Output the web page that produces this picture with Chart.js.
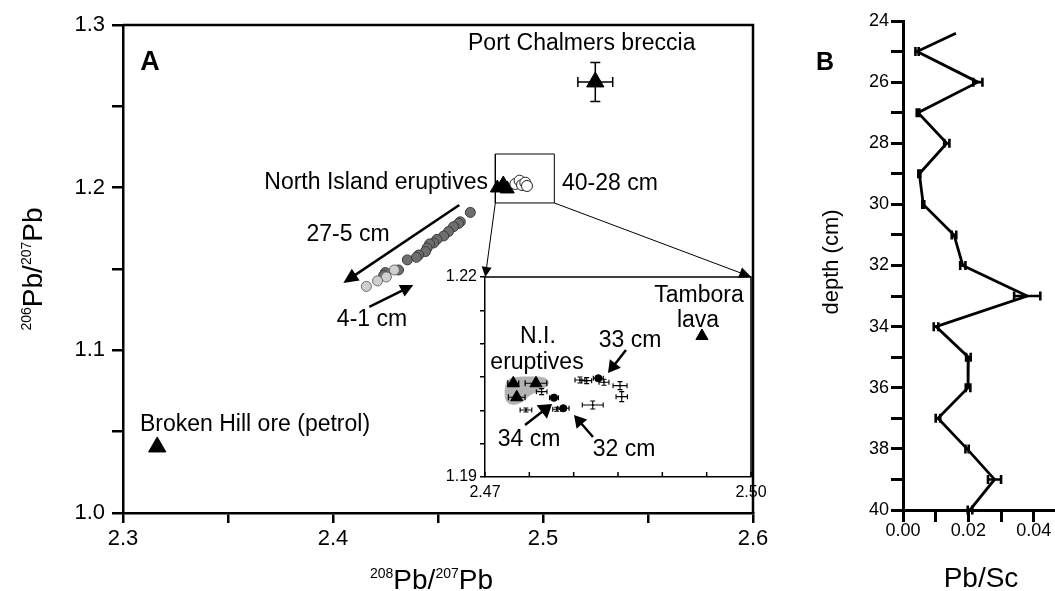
<!DOCTYPE html>
<html><head><meta charset="utf-8">
<script src="https://cdn.jsdelivr.net/npm/chart.js@4.4.1/dist/chart.umd.min.js"></script>
<style>
html,body{margin:0;padding:0;background:#fff;}
#wrap{position:relative;width:1055px;height:591px;overflow:hidden;background:#fff;}
canvas{position:absolute;left:0;top:0;}
</style></head><body>
<div id="wrap">
<canvas id="main" width="1055" height="591"></canvas>
<canvas id="inset" width="1055" height="591"></canvas>
<canvas id="depthChart" width="1055" height="591"></canvas>
</div>
<script>
// ================= DATA =================
// Panel A (main): 208Pb/207Pb (x) vs 206Pb/207Pb (y)
const dark_x  = [2.4654, 2.4606, 2.4598, 2.4574, 2.4550, 2.4527, 2.4495, 2.4479, 2.4460, 2.4448, 2.4440, 2.4408, 2.4397, 2.4354, 2.4312, 2.4249, 2.4241];
const dark_y  = [1.1848, 1.1790, 1.1780, 1.1760, 1.1730, 1.1703, 1.1682, 1.1660, 1.1654, 1.1629, 1.1607, 1.1586, 1.1572, 1.1556, 1.1494, 1.1478, 1.1460];
const light_x = [2.4292, 2.4254, 2.4212, 2.4159];
const light_y = [1.1494, 1.1451, 1.1427, 1.1393];
const open_x  = [2.48681, 2.48886, 2.49000, 2.49157, 2.49238];
const open_y  = [1.20227, 1.20430, 1.20166, 1.20307, 1.20104];
const nie_x   = [2.47824, 2.48110, 2.48300];
const nie_y   = [1.19981, 1.20227, 1.19920];
const port_x  = [2.5249];
const port_y  = [1.2650];
const port_ex = [0.0083];
const port_ey = [0.0120];
const broken_x = [2.3163];
const broken_y = [1.0406];
const zoomBox_x = [2.4773, 2.5054];
const zoomBox_y = [1.1906, 1.2207];
const mainXLabels = ['2.3', '2.4', '2.5', '2.6'];
const mainYLabels = ['1.0', '1.1', '1.2', '1.3'];

// Inset
const niTri_x  = [2.47319, 2.47575, 2.47358];
const niTri_y  = [1.20406, 1.20406, 1.20196];
const niTri_ex = [0.00062, 0.00122, 0.00094];
const dot_x  = [2.48278, 2.47778, 2.47883];
const dot_y  = [1.20481, 1.20190, 1.20031];
const dot_ex = [0.00056, 0.00050, 0.00065];
const dot_ey = [0.00030, 0.00030, 0.00030];
const cross_x  = [2.48071, 2.48147, 2.48342, 2.48523, 2.48542, 2.47639, 2.47462, 2.48215, 2.47809];
const cross_y  = [1.20455, 1.20445, 1.20421, 1.20370, 1.20205, 1.20280, 1.20005, 1.20080, 1.20016];
const cross_ex = [0.00056, 0.00056, 0.00056, 0.00079, 0.00064, 0.00060, 0.00066, 0.00118, 0.00045];
const cross_ey = [0.00045, 0.00045, 0.00045, 0.00060, 0.00075, 0.00045, 0.00030, 0.00060, 0.00030];
const tambora_x = [2.49447];
const tambora_y = [1.21115];
const field_x = [2.47245, 2.47301, 2.47508, 2.47677, 2.47714, 2.47677, 2.47508, 2.47414, 2.47319, 2.47245, 2.47226, 2.47237, 2.47245];
const field_y = [1.2043, 1.2048, 1.2050, 1.2048, 1.2041, 1.2035, 1.2023, 1.2013, 1.2009, 1.2014, 1.2028, 1.2038, 1.2043];
const insetXLabels = ['2.47', '2.50'];
const insetYLabels = ['1.19', '1.22'];

// Panel B: Pb/Sc vs depth
const depth    = [24.4, 25, 26, 27, 28, 29, 30, 31, 32, 33, 34, 35, 36, 37, 38, 39, 40];
const pbsc     = [0.0162, 0.0043, 0.0229, 0.0046, 0.0134, 0.0050, 0.0062, 0.0156, 0.0183, 0.0380, 0.0101, 0.0200, 0.0199, 0.0107, 0.0196, 0.0280, 0.0205];
const pbsc_err = [0, 0.0005, 0.0014, 0.0004, 0.0008, 0.0003, 0.0003, 0.0007, 0.0008, 0.0040, 0.0007, 0.0007, 0.0007, 0.0007, 0.0005, 0.0020, 0.0007];
const depthLabels = ['24', '26', '28', '30', '32', '34', '36', '38', '40'];
const pbscLabels  = ['0.00', '0.02', '0.04'];

// ================= HELPERS =================
const FONT = "'Liberation Sans', Arial, Helvetica, sans-serif";
Chart.defaults.font.family = FONT;
Chart.defaults.color = '#000';

function pts(xs, ys) { return xs.map((x, i) => ({ x: x, y: ys[i] })); }
function labelFor(list) {
  return function (v) {
    const s = list.find(t => Math.abs(parseFloat(t) - v) < 1e-7);
    return s === undefined ? '' : s;
  };
}
function axis(o) {
  return {
    type: 'linear', min: o.min, max: o.max, reverse: !!o.reverse, position: o.pos,
    ticks: { stepSize: o.step, includeBounds: false, autoSkip: false, maxRotation: 0, minRotation: 0,
             padding: o.pad, font: { size: o.fs, lineHeight: o.lh || 1.2 }, color: '#000', callback: labelFor(o.labels) },
    grid: { display: true, drawOnChartArea: false, drawTicks: o.tl > 0, tickLength: o.tl, tickWidth: o.lw,
            tickColor: '#000', color: '#000', lineWidth: o.lw },
    border: { display: true, color: '#000', width: o.lw },
    afterFit: function (s) {
      if (o.pos === 'bottom') s.height = o.size; else s.width = o.size;
      s.paddingLeft = 0; s.paddingRight = 0; s.paddingTop = 0; s.paddingBottom = 0;
    }
  };
}
function drawRich(ctx, parts, x, y, rot) {
  ctx.save();
  ctx.translate(x, y);
  if (rot) ctx.rotate(rot);
  ctx.textAlign = 'left'; ctx.textBaseline = 'alphabetic'; ctx.fillStyle = '#000';
  const widths = parts.map(p => { ctx.font = p.size + 'px ' + FONT; return ctx.measureText(p.t).width; });
  let cx = -widths.reduce((a, b) => a + b, 0) / 2;
  parts.forEach((p, i) => { ctx.font = p.size + 'px ' + FONT; ctx.fillText(p.t, cx, -(p.rise || 0)); cx += widths[i]; });
  ctx.restore();
}
function makeAnnot(cfg) {
  return {
    id: 'annot',
    afterDatasetsDraw(chart) {
      const ctx = chart.ctx;
      const xs = chart.scales.x, ys = chart.scales.y;
      const ca = chart.chartArea;
      // error bars
      chart.data.datasets.forEach((ds, di) => {
        if (!ds.errX && !ds.errY) return;
        const st = ds.errStyle || { width: 1, cap: 3 };
        ctx.save();
        ctx.strokeStyle = '#000'; ctx.lineWidth = st.width; ctx.lineCap = 'butt';
        ds.data.forEach((p, i) => {
          const px = xs.getPixelForValue(p.x), py = ys.getPixelForValue(p.y);
          const ex = ds.errX ? ds.errX[i] : 0, ey = ds.errY ? ds.errY[i] : 0;
          const c = st.cap;
          ctx.beginPath();
          if (ex) {
            const l = xs.getPixelForValue(p.x - ex), r = xs.getPixelForValue(p.x + ex);
            ctx.moveTo(l, py); ctx.lineTo(r, py);
            ctx.moveTo(l, py - c); ctx.lineTo(l, py + c);
            ctx.moveTo(r, py - c); ctx.lineTo(r, py + c);
          }
          if (ey) {
            const t = ys.getPixelForValue(p.y + ey), b = ys.getPixelForValue(p.y - ey);
            ctx.moveTo(px, t); ctx.lineTo(px, b);
            ctx.moveTo(px - c, t); ctx.lineTo(px + c, t);
            ctx.moveTo(px - c, b); ctx.lineTo(px + c, b);
          }
          ctx.stroke();
        });
        ctx.restore();
      });
      // frame
      if (cfg.frame) {
        ctx.save(); ctx.strokeStyle = '#000'; ctx.lineWidth = cfg.frame.width;
        ctx.beginPath();
        ctx.moveTo(ca.left, ca.top); ctx.lineTo(ca.right, ca.top); ctx.lineTo(ca.right, ca.bottom);
        ctx.stroke(); ctx.restore();
      }
      // inward ticks on x
      if (cfg.inTicks) {
        ctx.save(); ctx.strokeStyle = '#000'; ctx.lineWidth = cfg.inTicks.width;
        ctx.beginPath();
        xs.ticks.forEach(t => {
          const px = xs.getPixelForValue(t.value);
          ctx.moveTo(px, ca.bottom); ctx.lineTo(px, ca.bottom - cfg.inTicks.len);
        });
        ctx.stroke(); ctx.restore();
      }
      // arrows
      (cfg.arrows || []).forEach(a => {
        const x1 = xs.getPixelForValue(a.from[0]), y1 = ys.getPixelForValue(a.from[1]);
        const x2 = xs.getPixelForValue(a.to[0]), y2 = ys.getPixelForValue(a.to[1]);
        const ang = Math.atan2(y2 - y1, x2 - x1);
        const L = a.head[0], W = a.head[1];
        const bx = x2 - L * Math.cos(ang), by = y2 - L * Math.sin(ang);
        ctx.save();
        ctx.strokeStyle = '#000'; ctx.fillStyle = '#000'; ctx.lineWidth = a.w;
        ctx.beginPath(); ctx.moveTo(x1, y1); ctx.lineTo(bx + 0.5 * Math.cos(ang), by + 0.5 * Math.sin(ang)); ctx.stroke();
        ctx.beginPath();
        ctx.moveTo(x2, y2);
        ctx.lineTo(bx + W * Math.sin(ang), by - W * Math.cos(ang));
        ctx.lineTo(bx - W * Math.sin(ang), by + W * Math.cos(ang));
        ctx.closePath(); ctx.fill();
        ctx.restore();
      });
    },
    afterDraw(chart) {
      const ctx = chart.ctx;
      (cfg.texts || []).forEach(t => {
        ctx.save();
        ctx.fillStyle = '#000';
        ctx.font = (t.bold ? 'bold ' : '') + t.size + 'px ' + FONT;
        ctx.textAlign = t.align || 'center';
        ctx.textBaseline = 'alphabetic';
        ctx.translate(t.x, t.y);
        if (t.rot) ctx.rotate(t.rot);
        ctx.fillText(t.t, 0, 0);
        ctx.restore();
      });
      (cfg.rich || []).forEach(r => drawRich(ctx, r.parts, r.x, r.y, r.rot));
    }
  };
}
const common = {
  responsive: false, animation: false, events: [], devicePixelRatio: 1,
  plugins: { legend: { display: false }, tooltip: { enabled: false } }
};
const isoTitle = (a, b) => [
  { t: a, size: 14, rise: 11 }, { t: 'Pb/', size: 28 },
  { t: b, size: 14, rise: 11 }, { t: 'Pb', size: 28 }
];

// ================= MAIN PANEL A =================
const boxPts = [
  { x: zoomBox_x[0], y: zoomBox_y[0] }, { x: zoomBox_x[1], y: zoomBox_y[0] },
  { x: zoomBox_x[1], y: zoomBox_y[1] }, { x: zoomBox_x[0], y: zoomBox_y[1] },
  { x: zoomBox_x[0], y: zoomBox_y[0] }
];
new Chart(document.getElementById('main'), {
  type: 'scatter',
  data: { datasets: [
    { data: pts(light_x, light_y), pointRadius: 5, pointBackgroundColor: '#cfcfcf', pointBorderColor: '#6a6a6a', pointBorderWidth: 1 },
    { data: pts(dark_x, dark_y), pointRadius: 5, pointBackgroundColor: '#6e6e6e', pointBorderColor: '#3a3a3a', pointBorderWidth: 1 },
    { data: pts(open_x, open_y), pointRadius: 5.5, pointBackgroundColor: '#ffffff', pointBorderColor: '#222', pointBorderWidth: 1 },
    { data: pts(nie_x, nie_y), pointStyle: 'triangle', pointRadius: 8, pointBackgroundColor: '#000', pointBorderColor: '#000', pointBorderWidth: 1 },
    { data: pts(port_x, port_y), pointStyle: 'triangle', pointRadius: 10, pointBackgroundColor: '#000', pointBorderColor: '#000', pointBorderWidth: 1,
      errX: port_ex, errY: port_ey, errStyle: { width: 1.5, cap: 5 } },
    { data: pts(broken_x, broken_y), pointStyle: 'triangle', pointRadius: 10, pointBackgroundColor: '#000', pointBorderColor: '#000', pointBorderWidth: 1 },
    { data: boxPts, showLine: true, borderColor: '#000', borderWidth: 1, pointRadius: 0, tension: 0, fill: false }
  ] },
  options: Object.assign({}, common, {
    layout: { padding: { left: 0, top: 25, right: 302, bottom: 0 } },
    scales: {
      x: axis({ min: 2.3, max: 2.6, step: 0.05, pos: 'bottom', pad: 3, fs: 22, tl: 10, lw: 2.5, size: 78, labels: mainXLabels }),
      y: axis({ min: 1.0, max: 1.3, step: 0.05, pos: 'left', pad: 7, fs: 22, tl: 11, lw: 2.5, size: 123, labels: mainYLabels })
    }
  }),
  plugins: [makeAnnot({
    frame: { width: 2.5 },
    arrows: [
      { from: [2.46014, 1.18937], to: [2.40490, 1.14143], w: 2.5, head: [15, 7] },
      { from: [2.41729, 1.12668], to: [2.43824, 1.14020], w: 2.5, head: [13, 6.5] },
      { from: [2.47729, 1.19060], to: [2.47252, 1.14512], w: 1, head: [10, 5] },
      { from: [2.50538, 1.19060], to: [2.59919, 1.14512], w: 1, head: [12, 5.5] }
    ],
    texts: [
      { t: 'A', x: 150, y: 70, size: 27, bold: true, align: 'center' },
      { t: 'Port Chalmers breccia', x: 468, y: 50, size: 23, align: 'left' },
      { t: 'North Island eruptives', x: 488, y: 188.5, size: 23, align: 'right' },
      { t: '40-28 cm', x: 562, y: 190, size: 23, align: 'left' },
      { t: '27-5 cm', x: 348, y: 241, size: 23, align: 'center' },
      { t: '4-1 cm', x: 372, y: 326, size: 23, align: 'center' },
      { t: 'Broken Hill ore (petrol)', x: 140, y: 431, size: 23, align: 'left' }
    ],
    rich: [
      { parts: isoTitle('208', '207'), x: 431.5, y: 589 },
      { parts: isoTitle('206', '207'), x: 42, y: 269, rot: -Math.PI / 2 }
    ]
  })]
});

// ================= INSET =================
new Chart(document.getElementById('inset'), {
  type: 'scatter',
  data: { datasets: [
    { data: pts(niTri_x, niTri_y), pointStyle: 'triangle', pointRadius: 7, pointBackgroundColor: '#000', pointBorderColor: '#000', pointBorderWidth: 1,
      errX: niTri_ex, errStyle: { width: 1.2, cap: 3 } },
    { data: pts(dot_x, dot_y), pointRadius: 3.6, pointBackgroundColor: '#000', pointBorderColor: '#000', pointBorderWidth: 1,
      errX: dot_ex, errY: dot_ey, errStyle: { width: 1.2, cap: 2.5 } },
    { data: pts(cross_x, cross_y), pointRadius: 1, pointBackgroundColor: '#000', pointBorderColor: '#000', pointBorderWidth: 0,
      errX: cross_ex, errY: cross_ey, errStyle: { width: 1.1, cap: 2.5 } },
    { data: pts(tambora_x, tambora_y), pointStyle: 'triangle', pointRadius: 7, pointBackgroundColor: '#000', pointBorderColor: '#000', pointBorderWidth: 1 },
    { data: pts(field_x, field_y), showLine: true, tension: 0.4, fill: 'shape', backgroundColor: '#b3b3b3', borderColor: '#b3b3b3', borderWidth: 1, pointRadius: 0 }
  ] },
  options: Object.assign({}, common, {
    layout: { padding: { left: 425, top: 277, right: 304, bottom: 0 } },
    scales: {
      x: axis({ min: 2.47, max: 2.50, step: 0.005, pos: 'bottom', pad: 6, fs: 16, tl: 0, lw: 1.5, size: 114, labels: insetXLabels }),
      y: axis({ min: 1.19, max: 1.22, step: 0.005, pos: 'left', pad: 3, fs: 16, tl: 5, lw: 1.5, size: 60, labels: insetYLabels })
    }
  }),
  plugins: [makeAnnot({
    frame: { width: 1.5 },
    inTicks: { len: 5, width: 1.5 },
    arrows: [
      { from: [2.48590, 1.20905], to: [2.48387, 1.20560], w: 2.5, head: [12, 7] },
      { from: [2.47451, 1.19780], to: [2.47756, 1.20095], w: 2.5, head: [13, 8.5] },
      { from: [2.48218, 1.19600], to: [2.48004, 1.19930], w: 2.5, head: [12, 7] }
    ],
    texts: [
      { t: 'N.I.', x: 538, y: 343, size: 23 },
      { t: 'eruptives', x: 537, y: 369, size: 23 },
      { t: '33 cm', x: 630, y: 347, size: 23 },
      { t: '34 cm', x: 529, y: 446, size: 23 },
      { t: '32 cm', x: 624, y: 456, size: 23 },
      { t: 'Tambora', x: 699, y: 302, size: 23 },
      { t: 'lava', x: 698, y: 327, size: 23 }
    ]
  })]
});

// ================= PANEL B =================
new Chart(document.getElementById('depthChart'), {
  type: 'scatter',
  data: { datasets: [
    { data: pts(pbsc, depth), showLine: true, borderColor: '#000', borderWidth: 2.8, pointRadius: 0, tension: 0,
      errX: pbsc_err, errStyle: { width: 2.6, cap: 4.5 } }
  ] },
  options: Object.assign({}, common, {
    layout: { padding: { left: 843, top: 21, right: 0, bottom: 0 } },
    scales: {
      x: axis({ min: 0, max: 0.0465, step: 0.01, pos: 'bottom', pad: 0, fs: 18, lh: 1, tl: 12, lw: 3, size: 81, labels: pbscLabels }),
      y: axis({ min: 24, max: 40, step: 1, reverse: true, pos: 'left', pad: 2, fs: 18, tl: 12, lw: 3, size: 60, labels: depthLabels })
    }
  }),
  plugins: [makeAnnot({
    texts: [
      { t: 'B', x: 825, y: 70, size: 25, bold: true },
      { t: 'depth (cm)', x: 838, y: 262, size: 22, rot: -Math.PI / 2 },
      { t: 'Pb/Sc', x: 981, y: 587, size: 28 }
    ]
  })]
});
</script>
</body></html>
